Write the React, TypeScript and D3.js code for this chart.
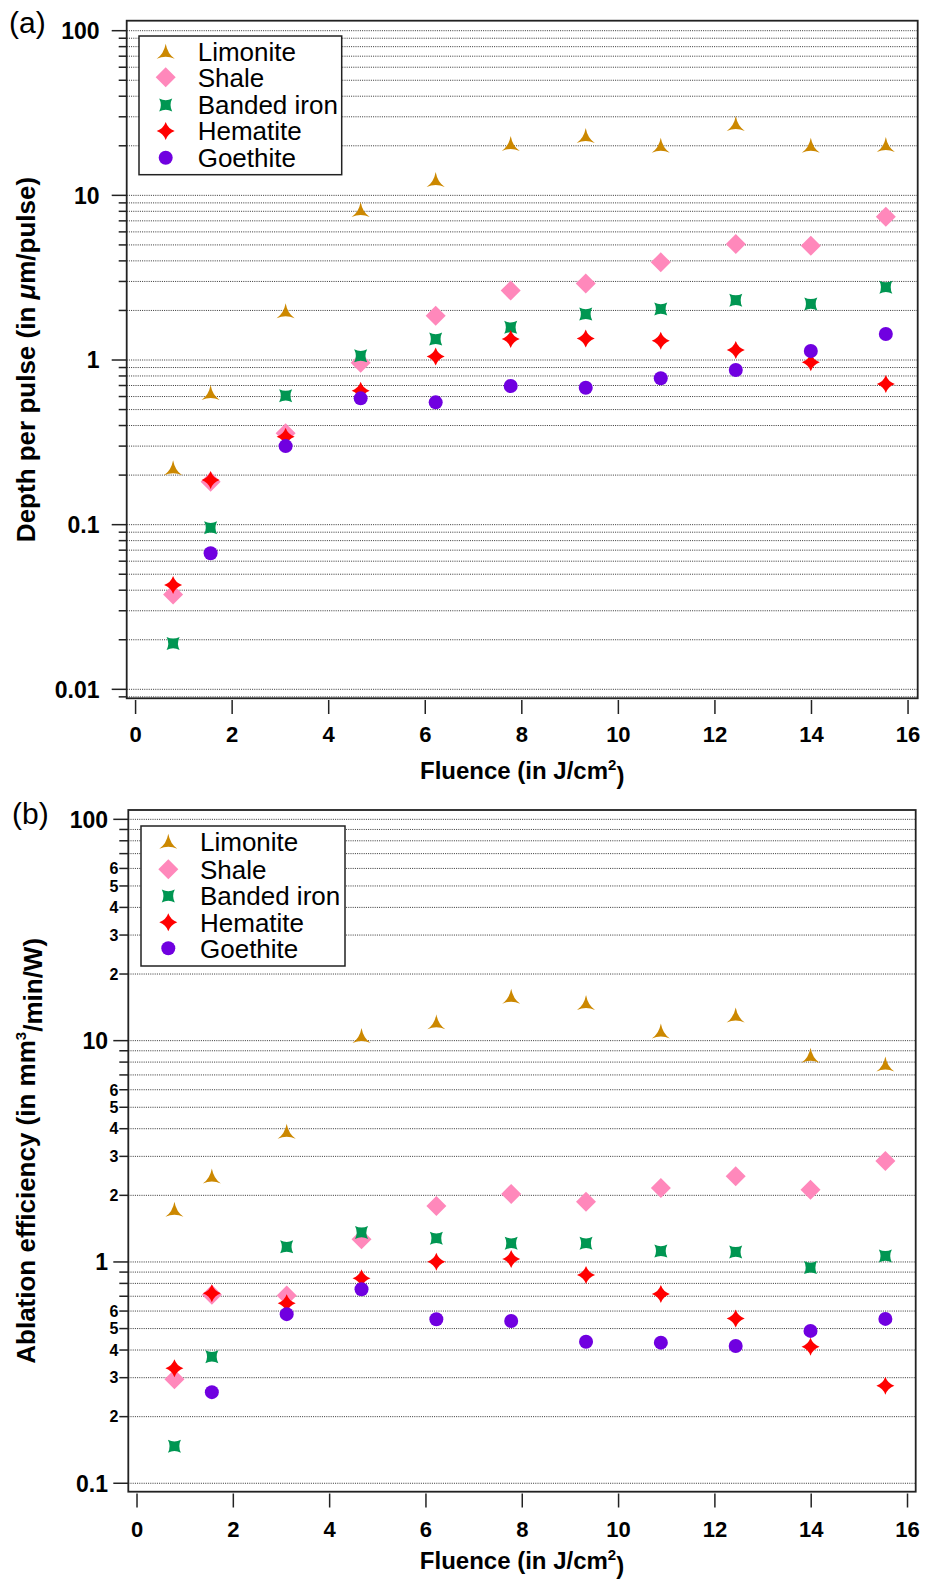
import React from 'react'
import * as d3 from 'd3'

// fluence values (J/cm^2) shared by every series
const fluence = [0.777, 1.554, 3.108, 4.662, 6.216, 7.77, 9.324, 10.878, 12.432, 13.986, 15.54]

const seriesNames = ['Limonite', 'Shale', 'Banded iron', 'Hematite', 'Goethite']

// (a) depth per pulse, um/pulse
const depthLimonite = [0.22, 0.63, 1.98, 8.15, 12.4, 20.5, 22.9, 20.0, 27.1, 20.0, 20.2]
const depthShale = [0.0377, 0.182, 0.359, 0.963, 1.86, 2.64, 2.92, 3.92, 5.07, 4.95, 7.42]
const depthBanded = [0.019, 0.0958, 0.607, 1.06, 1.34, 1.58, 1.9, 2.04, 2.31, 2.19, 2.77]
const depthHematite = [0.043, 0.187, 0.342, 0.651, 1.05, 1.34, 1.35, 1.31, 1.15, 0.97, 0.715]
const depthGoethite = [null, 0.067, 0.3, 0.585, 0.553, 0.695, 0.679, 0.775, 0.869, 1.135, 1.44]

// (b) ablation efficiency, mm^3/min/W
const effLimonite = [1.72, 2.43, 3.88, 10.5, 12.1, 15.8, 14.8, 11.0, 13.0, 8.55, 7.8]
const effShale = [0.295, 0.71, 0.705, 1.266, 1.79, 2.03, 1.87, 2.16, 2.44, 2.12, 2.86]
const effBanded = [0.147, 0.373, 1.17, 1.36, 1.28, 1.215, 1.215, 1.12, 1.11, 0.943, 1.065]
const effHematite = [0.331, 0.722, 0.651, 0.844, 1.003, 1.03, 0.873, 0.717, 0.555, 0.414, 0.276]
const effGoethite = [null, 0.258, 0.581, 0.753, 0.551, 0.541, 0.436, 0.432, 0.417, 0.488, 0.553]

const xTicks = [0, 2, 4, 6, 8, 10, 12, 14, 16]

const colors = ['#cc8800', '#ff88bb', '#009652', '#ff0000', '#7000e0']

const shapes = [
    'M0,-8 Q1.8,2 9,7 Q0,3 -9,7 Q-1.8,2 0,-8Z',
    'M0,-10 L10,0 L0,10 L-10,0Z',
    'M-6.5,-6.5 Q0,-3.2 6.5,-6.5 Q3.2,0 6.5,6.5 Q0,3.2 -6.5,6.5 Q-3.2,0 -6.5,-6.5Z',
    'M0,-9 Q2.3,-2.3 9,0 Q2.3,2.3 0,9 Q-2.3,2.3 -9,0 Q-2.3,-2.3 0,-9Z',
    null
]

const font = '"Liberation Sans", Arial, Helvetica, sans-serif'

function Marker({ i, x, y }) {
    if (shapes[i] === null) return <circle cx={x} cy={y} r={7} fill={colors[i]} />
    return <path d={shapes[i]} transform={`translate(${x},${y})`} fill={colors[i]} />
}

function Panel({ series, box, xDomain, yDomain, minorLabels, majorLabelX, minorLabelX, minorLen, xTickTop, xLabelY, xTitleY, yTitle, tag, tagPos, legend }) {
    const x = d3.scaleLinear().domain(xDomain).range([box.left, box.right])
    const y = d3.scaleLog().domain(yDomain).range([box.bottom, box.top])
    const grid = []
    for (let e = -3; e <= 3; e++) {
        for (let m = 1; m <= 9; m++) {
            const v = m * Math.pow(10, e)
            if (v >= yDomain[0] && v <= yDomain[1]) grid.push({ v, m })
        }
    }
    const cx = (box.left + box.right) / 2
    const cy = (box.top + box.bottom) / 2
    return (
        <g>
            {grid.map((g, k) => (
                <line key={'g' + k} x1={box.left} x2={box.right} y1={y(g.v)} y2={y(g.v)}
                    stroke="#333" strokeWidth={1} strokeDasharray="1 1.2" />
            ))}
            {grid.map((g, k) => (
                <line key={'t' + k} x1={box.left - (g.m === 1 ? 15 : minorLen)} x2={box.left} y1={y(g.v)} y2={y(g.v)}
                    stroke="#222" strokeWidth={1.5} />
            ))}
            {grid.filter(g => g.m === 1).map((g, k) => (
                <text key={'ml' + k} x={majorLabelX} y={y(g.v)} dy="0.36em" textAnchor="end"
                    fontFamily={font} fontWeight="bold" fontSize={23}>{d3.format('~g')(g.v)}</text>
            ))}
            {minorLabels && grid.filter(g => g.m >= 2 && g.m <= 6).map((g, k) => (
                <text key={'nl' + k} x={minorLabelX} y={y(g.v)} dy="0.36em" textAnchor="end"
                    fontFamily={font} fontWeight="bold" fontSize={16}>{g.m}</text>
            ))}
            {xTicks.map(t => (
                <g key={'x' + t}>
                    <line x1={x(t)} x2={x(t)} y1={xTickTop} y2={xTickTop + 14} stroke="#222" strokeWidth={1.5} />
                    <text x={x(t)} y={xLabelY} textAnchor="middle" fontFamily={font} fontWeight="bold" fontSize={22}>{t}</text>
                </g>
            ))}
            <rect x={box.left} y={box.top} width={box.right - box.left} height={box.bottom - box.top}
                fill="none" stroke="#222" strokeWidth={1.8} />
            {series.map((vals, i) => vals.map((v, j) => v === null ? null : (
                <Marker key={i + '-' + j} i={i} x={x(fluence[j])} y={y(v)} />
            )))}
            <rect x={legend.left} y={legend.top} width={legend.right - legend.left} height={legend.bottom - legend.top}
                fill="white" stroke="#222" strokeWidth={1.5} />
            {seriesNames.map((name, i) => (
                <g key={name}>
                    <Marker i={i} x={legend.markerX} y={legend.rows[i]} />
                    <text x={legend.textX} y={legend.rows[i]} dy="0.36em" fontFamily={font} fontSize={26}>{name}</text>
                </g>
            ))}
            <text x={cx} y={xTitleY} textAnchor="middle" fontFamily={font} fontWeight="bold" fontSize={24}>
                Fluence (in J/cm<tspan dy="-0.6em" fontSize={15}>2</tspan><tspan dy="0.6em">)</tspan>
            </text>
            <text transform={`translate(35,${cy}) rotate(-90)`} textAnchor="middle" fontFamily={font} fontWeight="bold" fontSize={26}>
                {yTitle}
            </text>
            <text x={tagPos[0]} y={tagPos[1]} fontFamily={font} fontSize={30}>{tag}</text>
        </g>
    )
}

export default function App() {
    return (
        <svg width={927} height={1584} style={{ position: 'absolute', left: 0, top: 0, background: 'white' }}>
            <Panel
                series={[depthLimonite, depthShale, depthBanded, depthHematite, depthGoethite]}
                box={{ left: 126.7, right: 917.7, top: 20.7, bottom: 698.3 }}
                xDomain={[-0.184, 16.2]}
                yDomain={[0.00882, 115]}
                minorLabels={false}
                majorLabelX={99.5}
                minorLabelX={0}
                minorLen={8}
                xTickTop={700}
                xLabelY={742}
                xTitleY={779}
                yTitle={<>Depth per pulse (in <tspan fontStyle="italic">μ</tspan>m/pulse)</>}
                tag="(a)"
                tagPos={[9, 33]}
                legend={{ left: 139, right: 341.7, top: 36, bottom: 174.7, markerX: 165.7, textX: 197.7, rows: [51.7, 77.3, 105, 131, 157.7] }}
            />
            <Panel
                series={[effLimonite, effShale, effBanded, effHematite, effGoethite]}
                box={{ left: 128.3, right: 915.7, top: 810, bottom: 1491.7 }}
                xDomain={[-0.181, 16.17]}
                yDomain={[0.0916, 110.2]}
                minorLabels={true}
                majorLabelX={108}
                minorLabelX={118.5}
                minorLen={9}
                xTickTop={1493.5}
                xLabelY={1537}
                xTitleY={1569}
                yTitle={<>Ablation efficiency (in mm<tspan dy="-0.6em" fontSize={15}>3</tspan><tspan dy="0.6em">/min/W)</tspan></>}
                tag="(b)"
                tagPos={[12, 824]}
                legend={{ left: 141, right: 345, top: 826, bottom: 966, markerX: 168.3, textX: 200, rows: [841.7, 869.3, 896, 922.3, 948.3] }}
            />
        </svg>
    )
}
